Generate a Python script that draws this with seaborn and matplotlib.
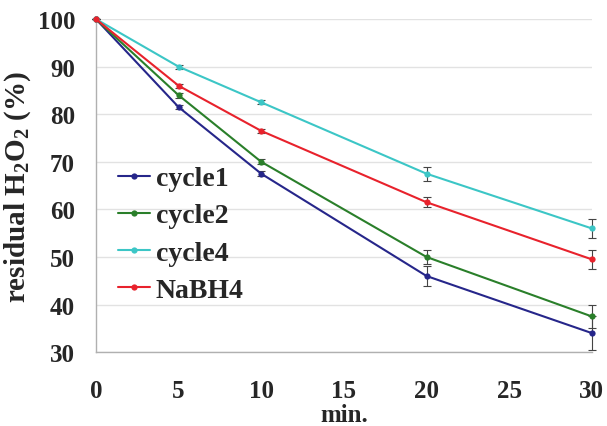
import matplotlib
matplotlib.use("Agg")
import matplotlib.pyplot as plt
import seaborn as sns
import pandas as pd

times = [0, 5, 10, 20, 30]
series_names = ["cycle1", "cycle2", "cycle4", "NaBH4"]
cycle1 = [100, 81.5, 67.5, 46.0, 34.0]
cycle2 = [100, 84.0, 70.0, 50.0, 37.5]
cycle4 = [100, 90.0, 82.5, 67.5, 56.0]
nabh4 = [100, 86.0, 76.5, 61.5, 49.5]
err1 = [0, 0.5, 0.5, 2.0, 3.5]
err2 = [0, 0.5, 0.5, 1.5, 2.5]
err4 = [0, 0.4, 0.4, 1.5, 2.0]
errn = [0, 0.4, 0.4, 1.0, 2.0]
x_ticks = [0, 5, 10, 15, 20, 25, 30]
y_ticks = [30, 40, 50, 60, 70, 80, 90, 100]

colors = {"cycle1": "#26268a", "cycle2": "#2a7f2a", "cycle4": "#3cc6c6", "NaBH4": "#e8222c"}

values = [cycle1, cycle2, cycle4, nabh4]
errs = [err1, err2, err4, errn]
rows = []
for name, vals, es in zip(series_names, values, errs):
    for t, v, e in zip(times, vals, es):
        rows.append({"time": t, "value": v, "err": e, "series": name})
df = pd.DataFrame(rows)

sns.set_style("white")
plt.rcParams["font.family"] = ["Liberation Serif", "DejaVu Serif"]
plt.rcParams["font.weight"] = "bold"
plt.rcParams["mathtext.fontset"] = "custom"
plt.rcParams["mathtext.rm"] = "Liberation Serif:bold"
plt.rcParams["mathtext.bf"] = "Liberation Serif:bold"
plt.rcParams["mathtext.default"] = "bf"

fig = plt.figure(figsize=(6.07, 4.27), dpi=100)
ax = fig.add_axes([0.158, 0.173, 0.817, 0.780])

sns.lineplot(data=df, x="time", y="value", hue="series", hue_order=series_names,
             palette=colors, marker="o", markersize=4.5, markeredgewidth=0,
             linewidth=1.5, ax=ax, errorbar=None, clip_on=False, zorder=3)
for name in series_names:
    sub = df[df["series"] == name]
    eb = ax.errorbar(sub["time"], sub["value"], yerr=sub["err"], fmt="none",
                     ecolor="#444444", elinewidth=0.8, capsize=3, capthick=0.8, zorder=2)
    for art in eb.lines[1] + eb.lines[2]:
        art.set_clip_on(False)

ax.set_xlim(0, 30)
ax.set_ylim(30, 100)
ax.set_xticks(x_ticks)
ax.set_yticks(y_ticks)
ax.yaxis.grid(True, color="#e2e2e2", linewidth=1)
ax.xaxis.grid(False)
for s in ["top", "right"]:
    ax.spines[s].set_visible(False)
for s in ["left", "bottom"]:
    ax.spines[s].set_color("#b0b0b0")
    ax.spines[s].set_linewidth(1)
ax.tick_params(axis="y", direction="out", length=6, color="#b0b0b0", width=1,
               labelsize=18, pad=9)
ax.tick_params(axis="x", direction="inout", length=6, color="#c8c8c8", width=1,
               labelsize=18, pad=16)
for lab in ax.get_xticklabels() + ax.get_yticklabels():
    lab.set_fontweight("bold")

ax.set_xlabel("min.", fontsize=18, fontweight="bold", labelpad=1)
ax.set_ylabel("residual H$_2$O$_2$ (%)", fontsize=21, fontweight="bold", labelpad=3)

leg = ax.legend(loc="center left", bbox_to_anchor=(0.045, 0.354), frameon=False,
                borderaxespad=0, borderpad=0,
                labelspacing=0.42, handlelength=1.15, handletextpad=0.2,
                prop={"weight": "bold", "size": 20})
for line in leg.get_lines():
    line.set_linewidth(1.5)

fig.savefig("out.png", dpi=100, facecolor="white")
